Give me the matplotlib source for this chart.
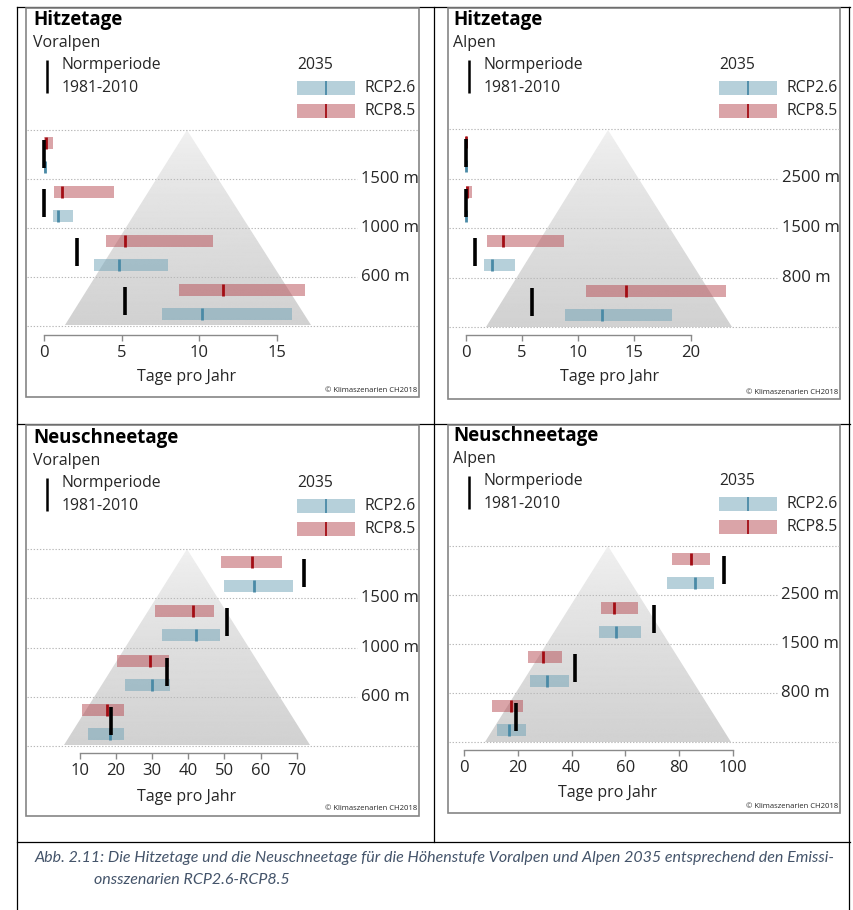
import numpy as np
import matplotlib
matplotlib.use("Agg")
import matplotlib.pyplot as plt
from matplotlib.patches import Polygon, Rectangle
from matplotlib.transforms import blended_transform_factory

# ---------------- data (bands listed from lowest to highest elevation) ----------------
bands = [0, 1, 2, 3]

hitze_voralpen_norm = [5.2, 2.1, 0.0, 0.0]
hitze_voralpen_26_lo = [7.6, 3.2, 0.55, 0.0]
hitze_voralpen_26_med = [10.2, 4.85, 0.9, 0.05]
hitze_voralpen_26_hi = [16.0, 8.0, 1.85, 0.1]
hitze_voralpen_85_lo = [8.7, 4.0, 0.65, 0.0]
hitze_voralpen_85_med = [11.5, 5.2, 1.15, 0.1]
hitze_voralpen_85_hi = [16.8, 10.85, 4.5, 0.6]

hitze_alpen_norm = [5.9, 0.8, 0.0, 0.0]
hitze_alpen_26_lo = [8.85, 1.6, 0.0, 0.0]
hitze_alpen_26_med = [12.1, 2.3, 0.05, 0.05]
hitze_alpen_26_hi = [18.35, 4.4, 0.1, 0.1]
hitze_alpen_85_lo = [10.7, 1.85, 0.0, 0.0]
hitze_alpen_85_med = [14.25, 3.35, 0.1, 0.05]
hitze_alpen_85_hi = [23.15, 8.7, 0.55, 0.1]

schnee_voralpen_norm = [18.7, 34.0, 50.6, 72.1]
schnee_voralpen_26_lo = [12.2, 22.5, 32.6, 50.0]
schnee_voralpen_26_med = [18.4, 30.0, 42.1, 58.3]
schnee_voralpen_26_hi = [22.3, 34.8, 48.9, 69.1]
schnee_voralpen_85_lo = [10.6, 20.2, 30.7, 49.0]
schnee_voralpen_85_med = [17.5, 29.4, 41.2, 57.5]
schnee_voralpen_85_hi = [22.3, 34.6, 47.0, 65.9]

schnee_alpen_norm = [19.4, 41.1, 70.8, 96.9]
schnee_alpen_26_lo = [12.1, 24.6, 50.1, 75.7]
schnee_alpen_26_med = [16.7, 30.8, 56.5, 86.0]
schnee_alpen_26_hi = [22.9, 39.1, 65.9, 93.0]
schnee_alpen_85_lo = [10.4, 23.9, 50.8, 77.4]
schnee_alpen_85_med = [17.3, 29.3, 55.7, 84.4]
schnee_alpen_85_hi = [21.9, 36.4, 64.6, 91.6]

labels_voralpen = ["600 m", "1000 m", "1500 m"]
labels_alpen = ["800 m", "1500 m", "2500 m"]

ticks_hv = [0, 5, 10, 15]
ticks_ha = [0, 5, 10, 15, 20]
ticks_sv = [10, 20, 30, 40, 50, 60, 70]
ticks_sa = [0, 20, 40, 60, 80, 100]

titles = ["Hitzetage", "Hitzetage", "Neuschneetage", "Neuschneetage"]
subtitles = ["Voralpen", "Alpen", "Voralpen", "Alpen"]
xlabel_text = "Tage pro Jahr"
legend_norm = ["Normperiode", "1981-2010"]
legend_year = "2035"
legend_scen = ["RCP2.6", "RCP8.5"]
copyright_text = "\u00a9 Klimaszenarien CH2018"
caption_lines = [
    "Abb. 2.11: Die Hitzetage und die Neuschneetage f\u00fcr die H\u00f6henstufe Voralpen und Alpen 2035 entsprechend den Emissi-",
    "onsszenarien RCP2.6-RCP8.5",
]

# ---------------- styling / layout ----------------
W, H = 854, 910
FONT = ["Open Sans", "DejaVu Sans"]
plt.rcParams["font.family"] = FONT
BLUE = "#6fa3b7"
BLUE_MED = "#4a8aa6"
RED = "#b74b53"
RED_MED = "#a30d14"
TXT = "#262626"

fig = plt.figure(figsize=(W / 100, H / 100), dpi=100)
ov = fig.add_axes([0, 0, 1, 1], zorder=0)
ov.set_xlim(0, W)
ov.set_ylim(H, 0)
ov.axis("off")

# table lines
tl = dict(color="black", lw=0.9)
ov.plot([17, 850], [7, 7], **tl)
ov.plot([17, 850], [424, 424], **tl)
ov.plot([17, 850], [842, 842], **tl)
ov.plot([17, 17], [7, 910], **tl)
ov.plot([434, 434], [7, 842], **tl)
ov.plot([849, 849], [7, 910], **tl)

panels = [
    dict(data=(hitze_voralpen_norm, hitze_voralpen_26_lo, hitze_voralpen_26_med, hitze_voralpen_26_hi,
               hitze_voralpen_85_lo, hitze_voralpen_85_med, hitze_voralpen_85_hi),
         ticks=ticks_hv, labels=labels_voralpen,
         box=(26, 8, 419, 397), axpx=(27, 130, 418, 326), x0=44.0, s=15.53, off=9,
         tri=((187, 130), (65, 325), (311, 325)), labx=361,
         title=(33, 25), sub=(33, 47), dx=0, dy=0, xl=(187, 377), cp=(417, 390)),
    dict(data=(hitze_alpen_norm, hitze_alpen_26_lo, hitze_alpen_26_med, hitze_alpen_26_hi,
               hitze_alpen_85_lo, hitze_alpen_85_med, hitze_alpen_85_hi),
         ticks=ticks_ha, labels=labels_alpen,
         box=(448, 8, 840, 399), axpx=(449, 129, 839, 327), x0=465.7, s=11.25, off=8,
         tri=((608, 130), (486, 327), (732, 327)), labx=782,
         title=(453, 25), sub=(453, 47), dx=422, dy=0, xl=(610, 377), cp=(838, 392)),
    dict(data=(schnee_voralpen_norm, schnee_voralpen_26_lo, schnee_voralpen_26_med, schnee_voralpen_26_hi,
               schnee_voralpen_85_lo, schnee_voralpen_85_med, schnee_voralpen_85_hi),
         ticks=ticks_sv, labels=labels_voralpen,
         box=(26, 425, 419, 816), axpx=(27, 549, 418, 746), x0=43.9, s=3.611, off=7,
         tri=((187, 549), (64, 745), (310, 745)), labx=361,
         title=(33, 443), sub=(33, 465), dx=0, dy=418, xl=(187, 797), cp=(417, 809)),
    dict(data=(schnee_alpen_norm, schnee_alpen_26_lo, schnee_alpen_26_med, schnee_alpen_26_hi,
               schnee_alpen_85_lo, schnee_alpen_85_med, schnee_alpen_85_hi),
         ticks=ticks_sa, labels=labels_alpen,
         box=(448, 425, 840, 813), axpx=(449, 545.7, 839, 742.3), x0=464.3, s=2.683, off=8,
         tri=((608, 546), (485, 742), (731, 742)), labx=781,
         title=(453, 441), sub=(453, 463), dx=422, dy=416, xl=(608, 793), cp=(838, 807)),
]

grad = (0.945 - 0.125 * np.linspace(0, 1, 256) ** 0.8)[:, None] * np.ones((1, 4))
yb = np.array(bands) + 0.245
yr = np.array(bands) + 0.735
bh = 0.245

for i, p in enumerate(panels):
    bl, bt, br, bb = p["box"]
    ov.add_patch(Rectangle((bl, bt), br - bl, bb - bt, fill=False, ec="#858585", lw=1.2, zorder=5))

    # triangle with vertical gradient
    (ax_, ay_), (lx_, ly_), (rx_, ry_) = p["tri"]
    poly = Polygon([(ax_, ay_), (lx_, ly_), (rx_, ry_)], closed=True, fc="none", ec="none")
    ov.add_patch(poly)
    im = ov.imshow(grad, cmap="gray", vmin=0, vmax=1, extent=(lx_, rx_, ly_, ay_),
                   origin="upper", aspect="auto", zorder=1)
    im.set_clip_path(poly)

    # texts
    ov.text(p["title"][0], p["title"][1], titles[i], fontsize=13.5, fontweight="bold",
            color="black", va="baseline", ha="left")
    ov.text(p["sub"][0], p["sub"][1], subtitles[i], fontsize=11.5, color=TXT, va="baseline", ha="left")

    dx, dy = p["dx"], p["dy"]
    ov.plot([47 + dx, 47 + dx], [60 + dy, 93 + dy], color="black", lw=1.8, solid_capstyle="butt")
    ov.text(62 + dx, 65 + dy, legend_norm[0], fontsize=11.3, color=TXT, va="center")
    ov.text(62 + dx, 88 + dy, legend_norm[1], fontsize=11.3, color=TXT, va="center")
    ov.text(297 + dx, 65 + dy, legend_year, fontsize=11.3, color=TXT, va="center")
    for k, (col, mcol, yc) in enumerate([(BLUE, BLUE_MED, 88), (RED, RED_MED, 111)]):
        ov.add_patch(Rectangle((297 + dx, yc - 7 + dy), 58, 14, fc=col, alpha=0.5, ec="none"))
        ov.plot([326 + dx, 326 + dx], [yc - 7 + dy, yc + 7 + dy], color=mcol, lw=1.3, solid_capstyle="butt")
        ov.text(365 + dx, yc + dy, legend_scen[k], fontsize=11.3, color=TXT, va="center")

    ov.text(p["xl"][0], p["xl"][1], xlabel_text, fontsize=11.5, color=TXT, ha="center", va="center")
    ov.text(p["cp"][0], p["cp"][1], copyright_text, fontsize=5.5, color=TXT, ha="right", va="center")

    # data axes
    l, t, r, b = p["axpx"]
    ax = fig.add_axes([l / W, 1 - b / H, (r - l) / W, (b - t) / H], zorder=2)
    ax.set_facecolor("none")
    ax.set_xlim((l - p["x0"]) / p["s"], (r - p["x0"]) / p["s"])
    ax.set_ylim(0, 4)
    for sp in ["left", "right", "top"]:
        ax.spines[sp].set_visible(False)
    ax.spines["bottom"].set_position(("outward", p["off"] * 0.72))
    ax.spines["bottom"].set_bounds(p["ticks"][0], p["ticks"][-1])
    ax.spines["bottom"].set_color("#8a8a8a")
    ax.spines["bottom"].set_linewidth(1.0)
    ax.set_yticks([])
    ax.set_xticks(p["ticks"])
    ax.tick_params(axis="x", direction="out", length=4, width=1.0, color="#8a8a8a",
                   labelsize=12, labelcolor=TXT, pad=3)

    frac_lab = (p["labx"] - 4 - l) / (r - l)
    for g in range(5):
        ax.axhline(g, xmin=0, xmax=(frac_lab if g in (1, 2, 3) else 1.0), color="#b8b8b8",
                   lw=0.8, ls=(0, (1.2, 1.6)), clip_on=False, zorder=0)
    trans = blended_transform_factory(ax.transAxes, ax.transData)
    for g, lab in zip([1, 2, 3], p["labels"]):
        ax.text((p["labx"] - l) / (r - l), g, lab, transform=trans, fontsize=12, color=TXT,
                va="center", ha="left")

    norm, lo26, med26, hi26, lo85, med85, hi85 = [np.array(v) for v in p["data"]]
    ax.barh(yb, hi26 - lo26, left=lo26, height=bh, color=BLUE, alpha=0.5, lw=0, zorder=2)
    ax.barh(yr, hi85 - lo85, left=lo85, height=bh, color=RED, alpha=0.5, lw=0, zorder=2)
    ax.vlines(med26, yb - bh / 2, yb + bh / 2, color=BLUE_MED, lw=2.0, zorder=3)
    ax.vlines(med85, yr - bh / 2, yr + bh / 2, color=RED_MED, lw=2.0, zorder=3)
    ax.vlines(norm, np.array(bands) + 0.224, np.array(bands) + 0.796, color="black", lw=2.6, zorder=4)

# caption
ov.text(35, 858, caption_lines[0], fontsize=11.5, style="italic", color="#44546a",
        family=["Lato", "DejaVu Sans"], va="center", ha="left")
ov.text(94, 880, caption_lines[1], fontsize=11.5, style="italic", color="#44546a",
        family=["Lato", "DejaVu Sans"], va="center", ha="left")

fig.savefig("out.png", dpi=100, facecolor="white")
